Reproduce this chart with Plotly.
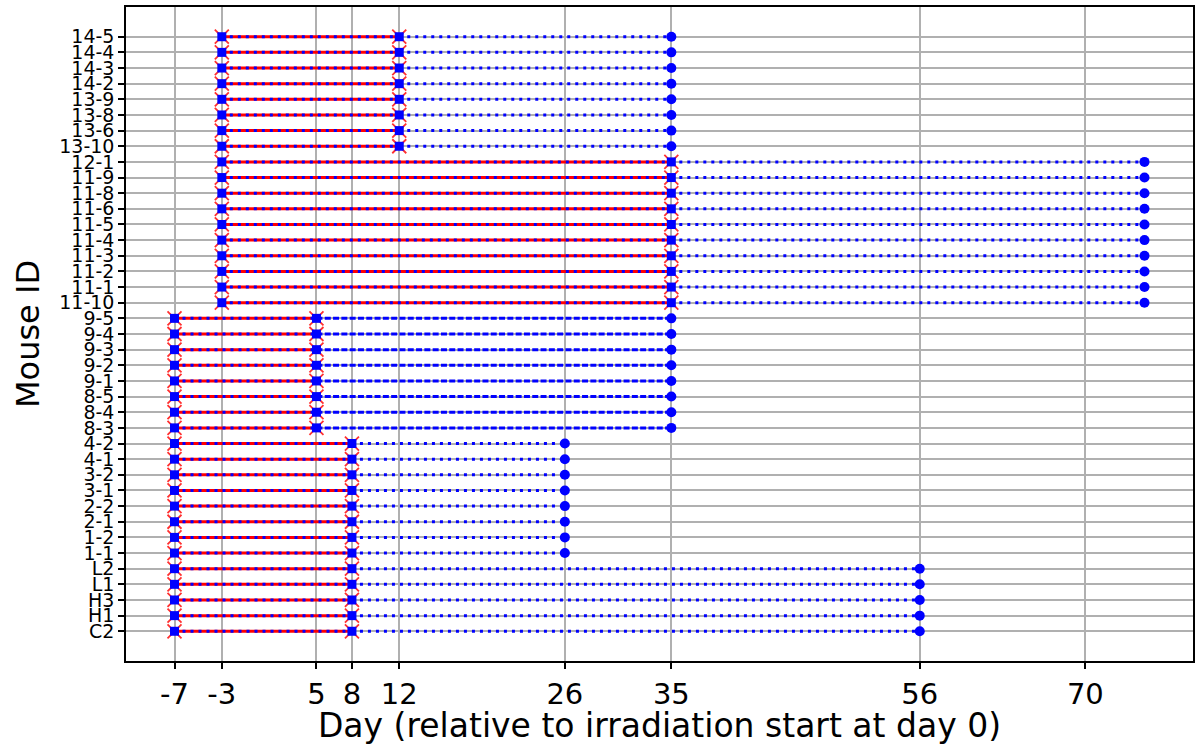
import plotly.graph_objects as go

# Mouse IDs, listed top to bottom, grouped by cohort
cohort_a = ["14-5", "14-4", "14-3", "14-2", "13-9", "13-8", "13-6", "13-10"]
cohort_b = ["12-1", "11-9", "11-8", "11-6", "11-5", "11-4", "11-3", "11-2", "11-1", "11-10"]
cohort_c = ["9-5", "9-4", "9-3", "9-2", "9-1", "8-5", "8-4", "8-3"]
cohort_d = ["4-2", "4-1", "3-2", "3-1", "2-2", "2-1", "1-2", "1-1"]
cohort_e = ["L2", "L1", "H3", "H1", "C2"]

# Day of first exposure, last irradiation day, and final observation day per cohort
start_day = [-3, -3, -7, -7, -7]
irr_end_day = [12, 35, 5, 8, 8]
final_day = [35, 75, 35, 26, 56]

x_tick_days = [-7, -3, 5, 8, 12, 26, 35, 56, 70]

cohorts = [cohort_a, cohort_b, cohort_c, cohort_d, cohort_e]
# follow-up line pattern per cohort
follow_dash = ["3px,5px", "3px,5px", "6px,2.3px", "3px,5px", "3px,5px"]

all_ids = [m for c in cohorts for m in c]
y_order = list(reversed(all_ids))  # bottom to top

fig = go.Figure()

# irradiation period: solid red bars with x markers at both ends
for ids, s, e in zip(cohorts, start_day, irr_end_day):
    xs, ys = [], []
    for m in ids:
        xs += [s, e, None]
        ys += [m, m, None]
    fig.add_trace(go.Scatter(
        x=xs, y=ys, mode="lines+markers",
        line=dict(color="red", width=3),
        marker=dict(symbol="x-thin", size=14, color="red",
                    line=dict(color="#ff3030", width=1.8)),
        hoverinfo="skip", showlegend=False))

# blue dotted overlay across the irradiation period, square markers at ends
for ids, s, e in zip(cohorts, start_day, irr_end_day):
    xs, ys = [], []
    for m in ids:
        xs += [s, e, None]
        ys += [m, m, None]
    fig.add_trace(go.Scatter(
        x=xs, y=ys, mode="lines+markers",
        line=dict(color="blue", width=3, dash="3px,5px"),
        marker=dict(symbol="square", size=9, color="blue"),
        hoverinfo="skip", showlegend=False))

# follow-up period: blue dotted line ending in a round marker
for ids, e, f, dash in zip(cohorts, irr_end_day, final_day, follow_dash):
    xs, ys = [], []
    for m in ids:
        xs += [e, f, None]
        ys += [m, m, None]
    fig.add_trace(go.Scatter(
        x=xs, y=ys, mode="lines",
        line=dict(color="blue", width=3, dash=dash),
        hoverinfo="skip", showlegend=False))
    fx, fy = [], []
    for m in ids:
        fx.append(f)
        fy.append(m)
    fig.add_trace(go.Scatter(
        x=fx, y=fy, mode="markers",
        marker=dict(symbol="circle", size=10, color="blue"),
        hoverinfo="skip", showlegend=False))

font_family = "DejaVu Sans"
fig.update_layout(
    width=1196, height=745,
    margin=dict(l=125.5, r=1, t=7, b=83.5),
    paper_bgcolor="white", plot_bgcolor="white",
    font=dict(family=font_family, color="black"),
)
fig.update_xaxes(
    range=[-11.1, 79.1],
    tickmode="array", tickvals=x_tick_days,
    ticktext=[str(d) for d in x_tick_days],
    tickfont=dict(size=29, family=font_family),
    ticks="outside", ticklen=6, tickwidth=1.5, tickcolor="black",
    showgrid=True, gridcolor="#b0b0b0", gridwidth=1.5,
    showline=True, linecolor="black", linewidth=1.5, mirror=True,
    zeroline=False,
    title=dict(text="Day (relative to irradiation start at day 0)",
               font=dict(size=33, family=font_family), standoff=6),
)
fig.update_yaxes(
    type="category", categoryorder="array", categoryarray=y_order,
    tickmode="array", tickvals=y_order, ticktext=y_order,
    range=[-1.9, len(y_order) - 1 + 1.9],
    tickfont=dict(size=19, family=font_family),
    ticks="outside", ticklen=6, tickwidth=1.5, tickcolor="black",
    showgrid=True, gridcolor="#b0b0b0", gridwidth=1.5,
    showline=True, linecolor="black", linewidth=1.5, mirror=True,
    zeroline=False,
    title=dict(text="Mouse ID", font=dict(size=32, family=font_family),
               standoff=10),
)

fig.write_html("out.html")
